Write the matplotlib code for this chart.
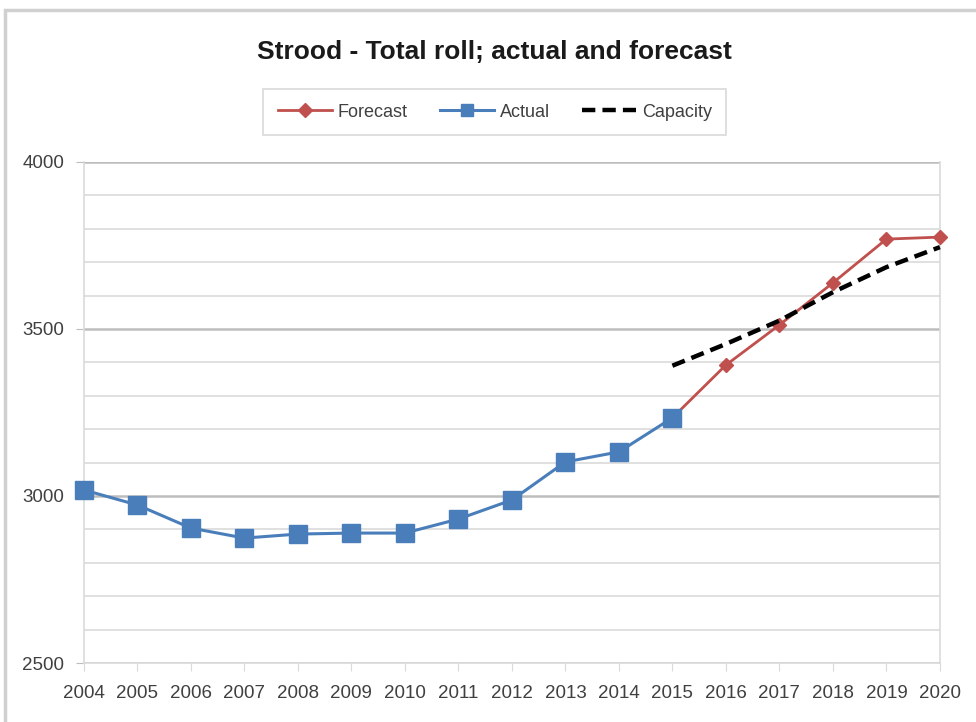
import matplotlib
matplotlib.use("Agg")
import matplotlib.pyplot as plt
from matplotlib.patches import Rectangle
from matplotlib.ticker import MultipleLocator

plt.rcParams['font.family'] = ['Liberation Sans', 'DejaVu Sans']

years = list(range(2004, 2021))
actual_years = list(range(2004, 2016))
actual = [3018, 2973, 2904, 2874, 2886, 2889, 2889, 2931, 2988, 3102, 3132, 3234]
forecast_years = list(range(2015, 2021))
forecast = [3234, 3392, 3512, 3638, 3769, 3775]
capacity_years = list(range(2015, 2021))
capacity = [3390, 3455, 3525, 3610, 3685, 3745]

fig = plt.figure(figsize=(9.76, 7.22), dpi=100)
ax = fig.add_axes([0.086, 0.0817, 0.877, 0.694])

# outer frame
fig.patches.append(Rectangle((5/976, -0.05), 1.2, 1 - 10/722 + 0.05, transform=fig.transFigure,
                             fill=False, edgecolor='#d0d0d0', linewidth=2.5))

ax.set_xlim(2004, 2020)
ax.set_ylim(2500, 4000)
ax.yaxis.set_major_locator(MultipleLocator(500))
ax.yaxis.set_minor_locator(MultipleLocator(100))
ax.set_xticks(years)
ax.set_xticklabels([str(y) for y in years])
ax.grid(which='major', axis='y', color='#bdbdbd', linewidth=1.8)
ax.grid(which='minor', axis='y', color='#dadada', linewidth=1.2)
ax.set_axisbelow(True)
ax.spines['top'].set_visible(False)
for s in ['right', 'left', 'bottom']:
    ax.spines[s].set_color('#dadada')
    ax.spines[s].set_linewidth(1.2)
ax.tick_params(axis='x', which='major', length=6, color='#dadada', labelsize=13.5, labelcolor='#404040', pad=10)
ax.tick_params(axis='y', which='major', length=6, color='#bdbdbd', labelsize=13.5, labelcolor='#404040', pad=8)
ax.tick_params(axis='y', which='minor', length=0)

ax.plot(forecast_years, forecast, color='#c0504d', linewidth=2, marker='D', markersize=7,
        markerfacecolor='#c0504d', markeredgecolor='#c0504d', label='Forecast', zorder=3, clip_on=False)
ax.plot(actual_years, actual, color='#4a7ebb', linewidth=2.2, marker='s', markersize=13,
        markerfacecolor='#4a7ebb', markeredgecolor='#4a7ebb', label='Actual', zorder=4, clip_on=False)
ax.plot(capacity_years, capacity, color='black', linewidth=3.2, linestyle=(0, (3, 1.6)),
        label='Capacity', zorder=5, clip_on=False)

fig.text(0.507, 0.928, 'Strood - Total roll; actual and forecast', ha='center', va='center',
         fontsize=19, fontweight='bold', color='#1a1a1a')

leg = fig.legend(loc='center', bbox_to_anchor=(0.507, 0.8445), ncol=3, frameon=True,
                 fontsize=13, handlelength=3.0, columnspacing=1.8, handletextpad=0.3,
                 fancybox=False, edgecolor='#d0d0d0', borderpad=0.8, borderaxespad=0)
leg.get_frame().set_linewidth(1.2)
for h in leg.legend_handles:
    if h.get_marker() == 's':
        h.set_markersize(9)
for t in leg.get_texts():
    t.set_color('#404040')

fig.savefig('out.png', dpi=100)
